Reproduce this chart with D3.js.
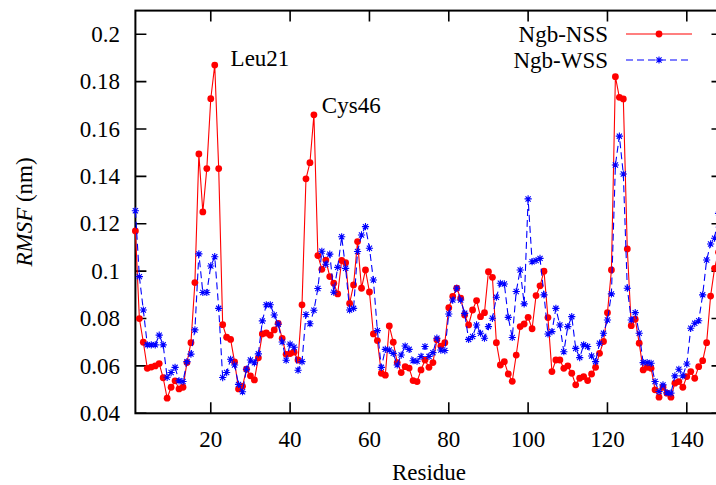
<html>
 <head>
   <meta charset="UTF-8">
   <title>Ngb RMSF</title>
   <script src="https://d3js.org/d3.v7.min.js"></script>
   <style>
     body { margin: 0; background: #fff; }
     text { font-family: "Liberation Serif", "Times New Roman", serif; fill: #000; }
   </style>
 </head>
 <body>

   <div id="chart"></div>

   <script>
   // residue numbers
   var residues = d3.range(1, 149);

   // Ngb-NSS rmsf (nm)
   var nss = [
     0.117, 0.080, 0.070, 0.059, 0.0595, 0.060, 0.061, 0.055, 0.0464, 0.051,
     0.0537, 0.0503, 0.051, 0.0614, 0.0698, 0.0952, 0.1495, 0.125, 0.1433, 0.1728,
     0.187, 0.1433, 0.0774, 0.0721, 0.0712, 0.0617, 0.0503, 0.0514, 0.0586, 0.0558,
     0.0541, 0.0634, 0.0735, 0.0739, 0.073, 0.0752, 0.078, 0.0716, 0.0649, 0.0652,
     0.0658, 0.0625, 0.0858, 0.139, 0.1458, 0.166, 0.1066, 0.1008, 0.1047, 0.0977,
     0.0949, 0.0904, 0.1045, 0.1036, 0.0864, 0.0942, 0.1125, 0.0928, 0.1005, 0.0912,
     0.0735, 0.0707, 0.0569, 0.0561, 0.0769, 0.070, 0.0614, 0.0572, 0.0597, 0.0591,
     0.0538, 0.0534, 0.0583, 0.0625, 0.0594, 0.0614, 0.071, 0.0684, 0.0698, 0.0846,
     0.0893, 0.0928, 0.0886, 0.0815, 0.0773, 0.0836, 0.0876, 0.0808, 0.0825, 0.0998,
     0.0974, 0.0698, 0.0604, 0.0618, 0.0566, 0.0535, 0.0646, 0.0766, 0.0777, 0.0805,
     0.0757, 0.0897, 0.0938, 0.100, 0.0804, 0.0576, 0.0625, 0.0625, 0.059, 0.060,
     0.0569, 0.052, 0.0548, 0.0555, 0.0538, 0.0566, 0.0594, 0.0653, 0.0703, 0.0825,
     0.1005, 0.1821, 0.1734, 0.1727, 0.1094, 0.077, 0.0797, 0.0696, 0.0583, 0.0594,
     0.059, 0.0499, 0.0468, 0.051, 0.0485, 0.0468, 0.0527, 0.0534, 0.051, 0.0555,
     0.0576, 0.0548, 0.0597, 0.0622, 0.0698, 0.0895, 0.1012, 0.108
   ];

   // Ngb-WSS rmsf (nm)
   var wss = [
     0.1255, 0.0977, 0.0836, 0.0689, 0.0689, 0.0689, 0.073, 0.0689, 0.0552, 0.0572,
     0.0594, 0.0537, 0.0534, 0.0618, 0.065, 0.0752, 0.1073, 0.091, 0.091, 0.1022,
     0.1061, 0.0843, 0.0551, 0.0572, 0.0628, 0.0604, 0.0522, 0.0491, 0.0586, 0.0625,
     0.0613, 0.0651, 0.079, 0.0858, 0.0858, 0.0815, 0.0776, 0.0701, 0.0624, 0.0692,
     0.0679, 0.0582, 0.0618, 0.0817, 0.0778, 0.0835, 0.0927, 0.1084, 0.1029, 0.1072,
     0.0911, 0.1016, 0.1145, 0.1012, 0.0836, 0.0843, 0.1083, 0.1153, 0.1188, 0.1097,
     0.0963, 0.0749, 0.0594, 0.067, 0.0667, 0.0653, 0.0604, 0.0646, 0.0684, 0.067,
     0.0622, 0.062, 0.064, 0.0682, 0.064, 0.0656, 0.0717, 0.0667, 0.0665, 0.0819,
     0.0878, 0.0928, 0.0878, 0.0822, 0.0712, 0.0724, 0.0773, 0.0738, 0.0717, 0.0766,
     0.0801, 0.089, 0.0949, 0.0946, 0.0805, 0.072, 0.0914, 0.1005, 0.0862, 0.1305,
     0.104, 0.1045, 0.1054, 0.090, 0.0735, 0.0745, 0.0843, 0.0773, 0.066, 0.0766,
     0.0808, 0.0674, 0.0635, 0.0689, 0.0682, 0.0642, 0.0618, 0.0696, 0.0738, 0.0794,
     0.0904, 0.1448, 0.157, 0.141, 0.0928, 0.0794, 0.0825, 0.0738, 0.0614, 0.0614,
     0.0611, 0.0534, 0.0492, 0.052, 0.0487, 0.0485, 0.0558, 0.0586, 0.0558, 0.0608,
     0.0759, 0.078, 0.0791, 0.090, 0.1047, 0.1115, 0.1139, 0.1244
   ];

   var xTicks = [20, 40, 60, 80, 100, 120, 140];
   var yTicks = [0.04, 0.06, 0.08, 0.1, 0.12, 0.14, 0.16, 0.18, 0.2];

   var seriesNames = ["Ngb-NSS", "Ngb-WSS"];

   // peak labels, placed in data coordinates like gnuplot "set label"
   var peakNames = ["Leu21", "Cys46"];
   var peakLabelX = [25, 48];
   var peakLabelY = [0.19, 0.17];

   var width = 716, height = 485;
   var xMin = 1, xMax = 149, yMin = 0.04, yMax = 0.21;

   var svg = d3.select("#chart").append("svg")
     .attr("width", width)
     .attr("height", height);

   var xScale = d3.scaleLinear()
     .domain([xMin, xMax])
     .range([135.4, 722.5]);

   var yScale = d3.scaleLinear()
     .domain([yMin, yMax])
     .range([413.3, 10.6]);

   var x0 = xScale(xMin), x1 = xScale(xMax),
       y0 = yScale(yMin), y1 = yScale(yMax);
   var tickLen = 11;

   // gnuplot style ticks, inward on every side
   var axes = svg.append("g")
     .attr("stroke", "#000")
     .attr("stroke-width", 1.6);

   axes.selectAll(".xt").data(xTicks).enter().append("path")
     .attr("d", function(d) {
       var x = xScale(d);
       return "M" + x + "," + y0 + "V" + (y0 - tickLen) + "M" + x + "," + y1 + "V" + (y1 + tickLen);
     });

   axes.selectAll(".yt").data(yTicks).enter().append("path")
     .attr("d", function(d) {
       var y = yScale(d);
       return "M" + x0 + "," + y + "H" + (x0 + tickLen) + "M" + x1 + "," + y + "H" + (x1 - tickLen);
     });

   svg.append("rect")
     .attr("x", x0)
     .attr("y", y1)
     .attr("width", x1 - x0)
     .attr("height", y0 - y1)
     .attr("fill", "none")
     .attr("stroke", "#000")
     .attr("stroke-width", 2);

   // tick labels
   svg.selectAll(".xl").data(xTicks).enter().append("text")
     .attr("x", function(d) { return xScale(d); })
     .attr("y", 447)
     .attr("text-anchor", "middle")
     .style("font-size", "23px")
     .text(function(d) { return d; });

   svg.selectAll(".yl").data(yTicks).enter().append("text")
     .attr("x", 120)
     .attr("y", function(d) { return yScale(d); })
     .attr("dy", "0.33em")
     .attr("text-anchor", "end")
     .style("font-size", "23px")
     .text(function(d) { return String(+d.toFixed(2)); });

   // axis titles, centred on the plot box
   svg.append("text")
     .attr("x", (x0 + x1) / 2)
     .attr("y", 480)
     .attr("text-anchor", "middle")
     .style("font-size", "23px")
     .text("Residue");

   var yt = svg.append("text")
     .attr("transform", "translate(32," + ((y0 + y1) / 2) + ") rotate(-90)")
     .attr("text-anchor", "middle")
     .style("font-size", "23px");
   yt.append("tspan").style("font-style", "italic").text("RMSF");
   yt.append("tspan").text(" (nm)");

   // data
   var plot = svg.append("g");

   var line = d3.line()
     .x(function(d, i) { return xScale(residues[i]); })
     .y(function(d) { return yScale(d); });

   plot.append("path")
     .datum(nss)
     .attr("d", line)
     .attr("fill", "none")
     .attr("stroke", "#ff0000")
     .attr("stroke-width", 1.1);

   plot.selectAll(".dot").data(nss).enter().append("circle")
     .attr("cx", function(d, i) { return xScale(residues[i]); })
     .attr("cy", function(d) { return yScale(d); })
     .attr("r", 3.4)
     .attr("fill", "#ff0000");

   plot.append("path")
     .datum(wss)
     .attr("d", line)
     .attr("fill", "none")
     .attr("stroke", "#0000ff")
     .attr("stroke-width", 1.1)
     .attr("stroke-dasharray", "7,4");

   function star(cx, cy) {
     var s = 3.6, t = 2.6;
     return "M" + (cx - s) + "," + cy + "H" + (cx + s) +
            "M" + cx + "," + (cy - s) + "V" + (cy + s) +
            "M" + (cx - t) + "," + (cy - t) + "L" + (cx + t) + "," + (cy + t) +
            "M" + (cx - t) + "," + (cy + t) + "L" + (cx + t) + "," + (cy - t);
   }

   plot.selectAll(".star").data(wss).enter().append("path")
     .attr("d", function(d, i) { return star(xScale(residues[i]), yScale(d)); })
     .attr("stroke", "#0000ff")
     .attr("stroke-width", 1.1)
     .attr("fill", "none");

   // peak labels
   svg.selectAll(".peak").data(peakNames).enter().append("text")
     .attr("x", function(d, i) { return xScale(peakLabelX[i]); })
     .attr("y", function(d, i) { return yScale(peakLabelY[i]); })
     .attr("dy", "0.33em")
     .style("font-size", "23px")
     .text(function(d) { return d; });

   // legend
   var legend = svg.append("g");
   var rowY = [34, 60];

   legend.selectAll(".lt").data(seriesNames).enter().append("text")
     .attr("x", 608)
     .attr("y", function(d, i) { return rowY[i]; })
     .attr("dy", "0.33em")
     .attr("text-anchor", "end")
     .style("font-size", "23px")
     .text(function(d) { return d; });

   legend.append("line")
     .attr("x1", 626).attr("x2", 692)
     .attr("y1", rowY[0]).attr("y2", rowY[0])
     .attr("stroke", "#ff0000").attr("stroke-width", 1.1);
   legend.append("circle")
     .attr("cx", 659).attr("cy", rowY[0]).attr("r", 3.4)
     .attr("fill", "#ff0000");

   legend.append("line")
     .attr("x1", 626).attr("x2", 692)
     .attr("y1", rowY[1]).attr("y2", rowY[1])
     .attr("stroke", "#0000ff").attr("stroke-width", 1.1)
     .attr("stroke-dasharray", "7,4");
   legend.append("path")
     .attr("d", star(659, rowY[1]))
     .attr("stroke", "#0000ff").attr("stroke-width", 1.1);

   </script>
 </body>
</html>
